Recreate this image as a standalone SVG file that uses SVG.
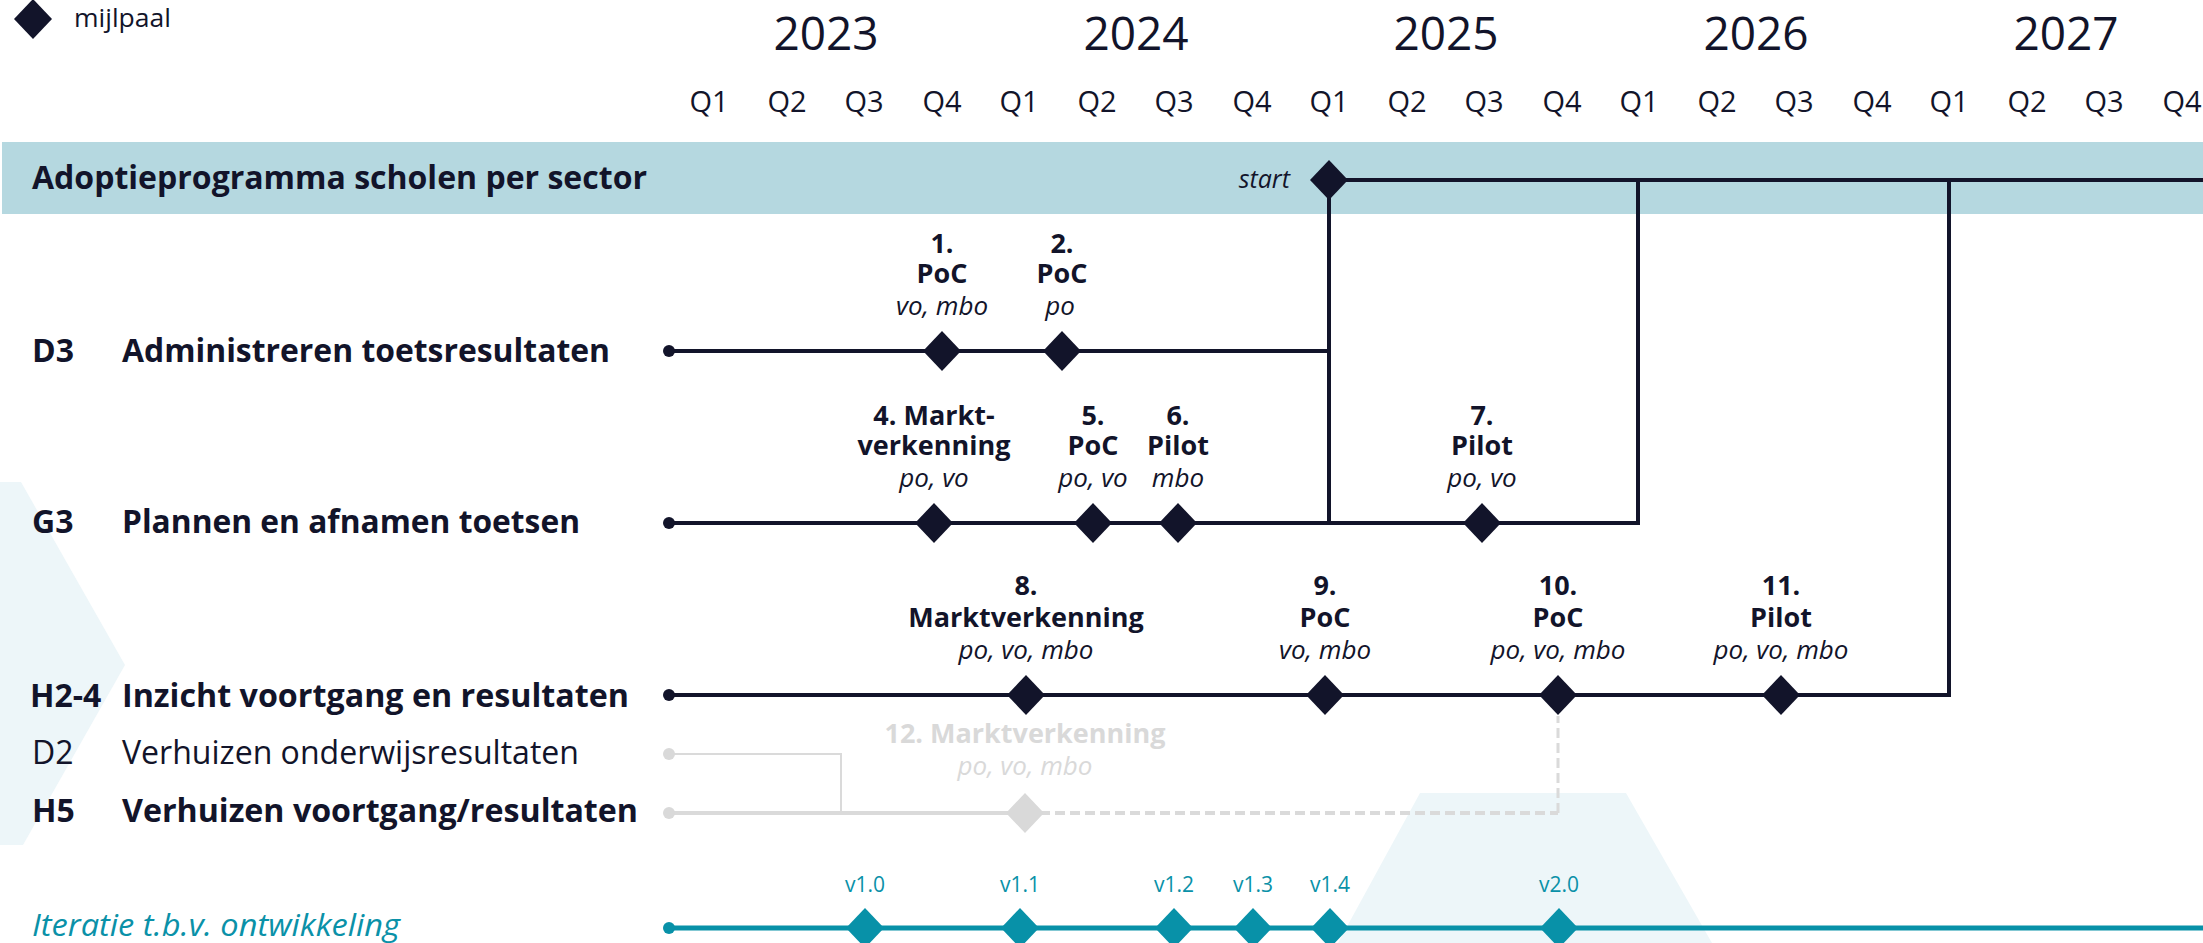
<svg xmlns="http://www.w3.org/2000/svg" width="2203" height="943" viewBox="0 0 2203 943">
<defs>
<style>
text{font-family:"Open Sans","Noto Sans",sans-serif;fill:#12142a}
.yr{font-size:46px;text-anchor:middle}
.q{font-size:29px;text-anchor:middle}
.row{font-size:32px;font-weight:bold}
.reg{font-size:32px;font-weight:normal}
.ml{font-size:27px;font-weight:bold;text-anchor:middle}
.ms{font-size:26px;font-style:italic;font-weight:normal}
.gr{fill:#d9d9d9}
.tl{font-size:21px;fill:#0a91a8;text-anchor:middle}
.dk{stroke:#12142a;stroke-width:4;fill:none}
.gl{stroke:#dadada;fill:none}
.tln{stroke:#0891a8;stroke-width:5;fill:none}
</style>
<path id="dia" d="M0,-20 L19,0 L0,20 L-19,0 Z"/>
</defs>
<rect width="2203" height="943" fill="#ffffff"/>
<!-- background shapes -->
<polygon points="0,482 21,482 125,665 23,845 0,845" fill="#edf6f9"/>
<polygon points="1420,793 1626,793 1712,943 1338,943" fill="#edf6f9"/>
<rect x="2" y="142" width="2201" height="72" fill="#b5d8e0"/>

<!-- legend -->
<g id="legend">
<use href="#dia" x="33" y="19" fill="#12142a"/>
<text x="74" y="27" style="font-size:25px" textLength="97" lengthAdjust="spacingAndGlyphs">mijlpaal</text>
</g>

<!-- timeline header -->
<g id="years">
<text class="yr" x="826" y="50">2023</text>
<text class="yr" x="1136" y="50">2024</text>
<text class="yr" x="1446" y="50">2025</text>
<text class="yr" x="1756" y="50">2026</text>
<text class="yr" x="2066" y="50">2027</text>
</g>
<g id="quarters">
<text class="q" x="709" y="112">Q1</text><text class="q" x="787" y="112">Q2</text><text class="q" x="864" y="112">Q3</text><text class="q" x="942" y="112">Q4</text>
<text class="q" x="1019" y="112">Q1</text><text class="q" x="1097" y="112">Q2</text><text class="q" x="1174" y="112">Q3</text><text class="q" x="1252" y="112">Q4</text>
<text class="q" x="1329" y="112">Q1</text><text class="q" x="1407" y="112">Q2</text><text class="q" x="1484" y="112">Q3</text><text class="q" x="1562" y="112">Q4</text>
<text class="q" x="1639" y="112">Q1</text><text class="q" x="1717" y="112">Q2</text><text class="q" x="1794" y="112">Q3</text><text class="q" x="1872" y="112">Q4</text>
<text class="q" x="1949" y="112">Q1</text><text class="q" x="2027" y="112">Q2</text><text class="q" x="2104" y="112">Q3</text><text class="q" x="2182" y="112">Q4</text>
</g>

<!-- row labels -->
<g id="row-adoptie"><text class="row" x="32" y="189" textLength="615" lengthAdjust="spacingAndGlyphs">Adoptieprogramma scholen per sector</text></g>
<g id="row-d3"><text class="row" x="32" y="362">D3</text><text class="row" x="122" y="362" textLength="488" lengthAdjust="spacingAndGlyphs">Administreren toetsresultaten</text></g>
<g id="row-g3"><text class="row" x="32" y="533">G3</text><text class="row" x="122" y="533" textLength="458" lengthAdjust="spacingAndGlyphs">Plannen en afnamen toetsen</text></g>
<g id="row-h24"><text class="row" x="30" y="707">H2-4</text><text class="row" x="122" y="707" textLength="507" lengthAdjust="spacingAndGlyphs">Inzicht voortgang en resultaten</text></g>
<g id="row-d2"><text class="reg" x="32" y="764">D2</text><text class="reg" x="122" y="764" textLength="457" lengthAdjust="spacingAndGlyphs">Verhuizen onderwijsresultaten</text></g>
<g id="row-h5"><text class="row" x="32" y="822">H5</text><text class="row" x="122" y="822" textLength="516" lengthAdjust="spacingAndGlyphs">Verhuizen voortgang/resultaten</text></g>
<g id="row-iteratie"><text x="32" y="936" style="font-size:31px;font-style:italic;fill:#0a91a8" textLength="368" lengthAdjust="spacingAndGlyphs">Iteratie t.b.v. ontwikkeling</text></g>

<!-- connectors -->
<g id="connectors">
<path class="dk" d="M1329,180 H2203"/>
<path class="dk" d="M1329,180 V523"/>
<path class="dk" d="M669,351 H1329"/>
<path class="dk" d="M669,523 H1638 V180"/>
<path class="dk" d="M669,695 H1949 V180"/>
<path class="gl" stroke-width="2" d="M669,754 H841 V813"/>
<path class="gl" stroke-width="4" d="M669,813 H1025"/>
<path class="gl" stroke-width="4" stroke-dasharray="10 5" d="M1025,813 H1558"/>
<path class="gl" stroke-width="3" stroke-dasharray="10 5" d="M1558,813 V716"/>
<path class="tln" d="M669,928 H2203"/>
<circle cx="669" cy="351" r="6" fill="#12142a"/>
<circle cx="669" cy="523" r="6" fill="#12142a"/>
<circle cx="669" cy="695" r="6" fill="#12142a"/>
<circle cx="669" cy="754" r="6" fill="#d9d9d9"/>
<circle cx="669" cy="813" r="6" fill="#d9d9d9"/>
<circle cx="669" cy="928" r="6" fill="#0891a8"/>
</g>

<!-- milestones -->
<g id="m-start"><text x="1290" y="188" style="font-size:25px;font-style:italic;text-anchor:end">start</text><use href="#dia" x="1329" y="180" fill="#12142a"/></g>

<g id="m1"><text class="ml" x="942" y="253">1.<tspan x="942" dy="30">PoC</tspan><tspan class="ms" x="942" dy="32">vo, mbo</tspan></text><use href="#dia" x="942" y="351" fill="#12142a"/></g>
<g id="m2"><text class="ml" x="1062" y="253">2.<tspan x="1062" dy="30">PoC</tspan><tspan class="ms" x="1060" dy="32">po</tspan></text><use href="#dia" x="1062" y="351" fill="#12142a"/></g>

<g id="m4"><text class="ml" x="934" y="425">4. Markt-<tspan x="934" dy="30">verkenning</tspan><tspan class="ms" x="934" dy="32">po, vo</tspan></text><use href="#dia" x="934" y="523" fill="#12142a"/></g>
<g id="m5"><text class="ml" x="1093" y="425">5.<tspan x="1093" dy="30">PoC</tspan><tspan class="ms" x="1093" dy="32">po, vo</tspan></text><use href="#dia" x="1093" y="523" fill="#12142a"/></g>
<g id="m6"><text class="ml" x="1178" y="425">6.<tspan x="1178" dy="30">Pilot</tspan><tspan class="ms" x="1178" dy="32">mbo</tspan></text><use href="#dia" x="1178" y="523" fill="#12142a"/></g>
<g id="m7"><text class="ml" x="1482" y="425">7.<tspan x="1482" dy="30">Pilot</tspan><tspan class="ms" x="1482" dy="32">po, vo</tspan></text><use href="#dia" x="1482" y="523" fill="#12142a"/></g>

<g id="m8"><text class="ml" x="1026" y="595">8.<tspan x="1026" dy="32">Marktverkenning</tspan><tspan class="ms" x="1026" dy="32">po, vo, mbo</tspan></text><use href="#dia" x="1026" y="695" fill="#12142a"/></g>
<g id="m9"><text class="ml" x="1325" y="595">9.<tspan x="1325" dy="32">PoC</tspan><tspan class="ms" x="1325" dy="32">vo, mbo</tspan></text><use href="#dia" x="1325" y="695" fill="#12142a"/></g>
<g id="m10"><text class="ml" x="1558" y="595">10.<tspan x="1558" dy="32">PoC</tspan><tspan class="ms" x="1558" dy="32">po, vo, mbo</tspan></text><use href="#dia" x="1558" y="695" fill="#12142a"/></g>
<g id="m11"><text class="ml" x="1781" y="595">11.<tspan x="1781" dy="32">Pilot</tspan><tspan class="ms" x="1781" dy="32">po, vo, mbo</tspan></text><use href="#dia" x="1781" y="695" fill="#12142a"/></g>

<g id="m12"><text class="ml gr" x="1025" y="743">12. Marktverkenning<tspan class="ms" x="1025" dy="32">po, vo, mbo</tspan></text><use href="#dia" x="1025" y="813" fill="#d9d9d9"/></g>

<g id="v10"><text class="tl" x="865" y="892">v1.0</text><use href="#dia" x="865" y="928" fill="#0891a8"/></g>
<g id="v11"><text class="tl" x="1020" y="892">v1.1</text><use href="#dia" x="1020" y="928" fill="#0891a8"/></g>
<g id="v12"><text class="tl" x="1174" y="892">v1.2</text><use href="#dia" x="1174" y="928" fill="#0891a8"/></g>
<g id="v13"><text class="tl" x="1253" y="892">v1.3</text><use href="#dia" x="1253" y="928" fill="#0891a8"/></g>
<g id="v14"><text class="tl" x="1330" y="892">v1.4</text><use href="#dia" x="1330" y="928" fill="#0891a8"/></g>
<g id="v20"><text class="tl" x="1559" y="892">v2.0</text><use href="#dia" x="1559" y="928" fill="#0891a8"/></g>
</svg>
